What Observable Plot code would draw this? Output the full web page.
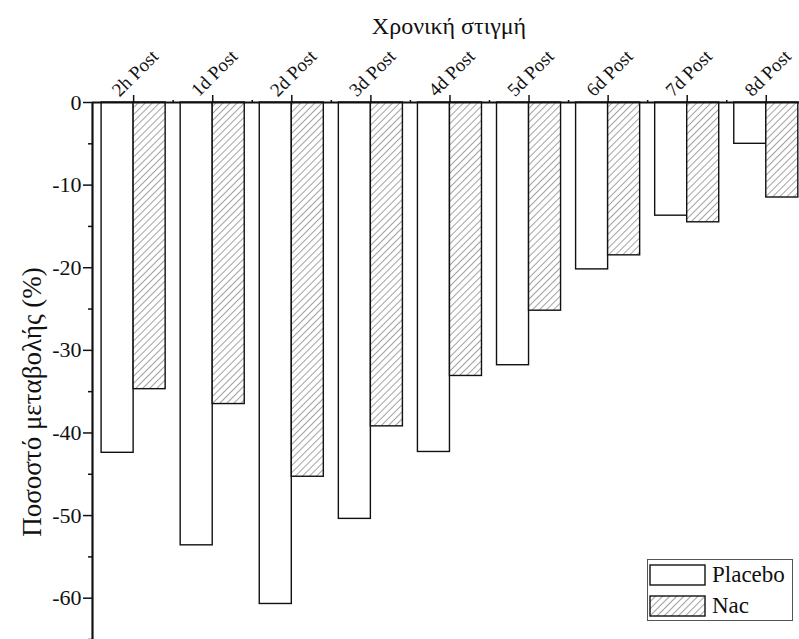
<!DOCTYPE html>
<html>
<head>
<meta charset="utf-8">
<script src="https://cdn.jsdelivr.net/npm/d3@7"></script>
<script src="https://cdn.jsdelivr.net/npm/@observablehq/plot@0.6"></script>
<style>
  html, body { margin: 0; padding: 0; background: #fff; overflow: hidden; }
  #wrap { position: relative; width: 799px; height: 639px; }
  svg text { font-family: "Liberation Serif", "Times New Roman", serif !important; }
  #legend { position: absolute; left: 647px; top: 559px; width: 146px; height: 62px;
    border: 1px solid #555; box-sizing: border-box; background: #fff;
    font-family: "Liberation Serif", "Times New Roman", serif; font-size: 23px; color: #111; }
  #legend .row { position: absolute; left: 1px; display: flex; align-items: center; }
  #legend svg { display: block; margin-right: 6px; }
</style>
</head>
<body>
<div id="wrap"></div>
<script>
const categories = ["2h Post","1d Post","2d Post","3d Post","4d Post","5d Post","6d Post","7d Post","8d Post"];
const placebo = [-42.4, -53.6, -60.7, -50.4, -42.3, -31.8, -20.2, -13.7, -5.0];
const nac = [-34.7, -36.5, -45.3, -39.2, -33.1, -25.2, -18.5, -14.5, -11.5];
const seriesNames = ["Placebo", "Nac"];
const yTicks = [0, -10, -20, -30, -40, -50, -60];
const yMinorTicks = [-5, -15, -25, -35, -45, -55, -65];
const titleText = "Χρονική στιγμή";
const yLabelText = "Ποσοστό μεταβολής (%)";

const half = 0.405;
const rows = [];
categories.forEach((c, i) => {
  rows.push({i, cat: c, series: "Placebo", value: placebo[i]});
  rows.push({i, cat: c, series: "Nac", value: nac[i]});
});
const idx = categories.map((_, i) => i);
const minorX = idx.map(i => i + 0.5);
const FONT = "'Liberation Serif', 'Times New Roman', serif";

const chart = Plot.plot({
  width: 799,
  height: 639,
  marginLeft: 92,
  marginRight: 0,
  marginTop: 102,
  marginBottom: 0,
  style: {fontFamily: FONT, background: "white", color: "#111", overflow: "hidden"},
  x: {domain: [-0.52, 8.42], label: null},
  y: {domain: [-65, 0], label: null},
  marks: [
    Plot.rectY(rows, {
      x1: d => d.i + (d.series === "Placebo" ? -half : 0),
      x2: d => d.i + (d.series === "Placebo" ? 0 : half),
      y1: 0,
      y2: "value",
      fill: d => d.series === "Placebo" ? "white" : "url(#hatch)",
      stroke: "#111",
      strokeWidth: 1.4
    }),
    Plot.axisY({ticks: yMinorTicks, tickSize: 4, tickFormat: () => "", stroke: "#111", strokeWidth: 1.5, label: null}),
    Plot.axisY({ticks: yTicks, tickSize: 9, tickPadding: 2, tickFormat: d => String(d),
      fontSize: 22, fontFamily: FONT, stroke: "#111", strokeWidth: 1.5, label: null}),
    Plot.axisX({anchor: "top", ticks: idx, tickSize: 8, tickFormat: () => "", stroke: "#111", strokeWidth: 1.5, label: null}),
    Plot.axisX({anchor: "top", ticks: minorX, tickSize: 3, tickFormat: () => "", stroke: "#111", strokeWidth: 1.5, label: null}),
    Plot.ruleY([0], {stroke: "#111", strokeWidth: 2.2}),
    Plot.ruleX([-0.52], {stroke: "#111", strokeWidth: 2.2}),
    Plot.text(categories, {
      x: (d, i) => i, y: () => 0, text: d => d,
      rotate: -45, textAnchor: "start", lineAnchor: "bottom",
      dx: -14, dy: -5, fontSize: 19, fontFamily: FONT, fill: "#111"
    }),
    Plot.text([titleText], {frameAnchor: "top", dy: -76, dx: 3, fontSize: 24, fontFamily: FONT, lineAnchor: "middle", textAnchor: "middle", fill: "#111"}),
    Plot.text([yLabelText], {frameAnchor: "left", rotate: -90, dx: -60, dy: 31, fontSize: 27, fontFamily: FONT, lineAnchor: "middle", textAnchor: "middle", fill: "#111"})
  ]
});

// hatch pattern for the Nac bars
const ns = "http://www.w3.org/2000/svg";
const defs = document.createElementNS(ns, "defs");
defs.innerHTML = `<pattern id="hatch" patternUnits="userSpaceOnUse" width="5" height="5" patternTransform="rotate(45)">
  <rect width="5" height="5" fill="white"/>
  <line x1="0" y1="0" x2="0" y2="5" stroke="#8a8a8a" stroke-width="1.6"/></pattern>`;
chart.insertBefore(defs, chart.firstChild);

const wrap = document.getElementById("wrap");
wrap.appendChild(chart);

// legend
const legend = document.createElement("div");
legend.id = "legend";
const swatch = (s) => s === "Placebo"
  ? `<svg width="57" height="22"><rect x="1" y="1" width="55" height="20" fill="white" stroke="#111" stroke-width="1.4"/></svg>`
  : `<svg width="57" height="22"><defs><pattern id="hatchL" patternUnits="userSpaceOnUse" width="5" height="5" patternTransform="rotate(45)"><rect width="5" height="5" fill="white"/><line x1="0" y1="0" x2="0" y2="5" stroke="#8a8a8a" stroke-width="1.6"/></pattern></defs><rect x="1" y="1" width="55" height="20" fill="url(#hatchL)" stroke="#111" stroke-width="1.4"/></svg>`;
seriesNames.forEach((s, k) => {
  const r = document.createElement("div");
  r.className = "row";
  r.style.top = (k === 0 ? 2 : 33) + "px";
  r.innerHTML = swatch(s) + `<span>${s}</span>`;
  legend.appendChild(r);
});
wrap.appendChild(legend);
</script>
</body>
</html>
